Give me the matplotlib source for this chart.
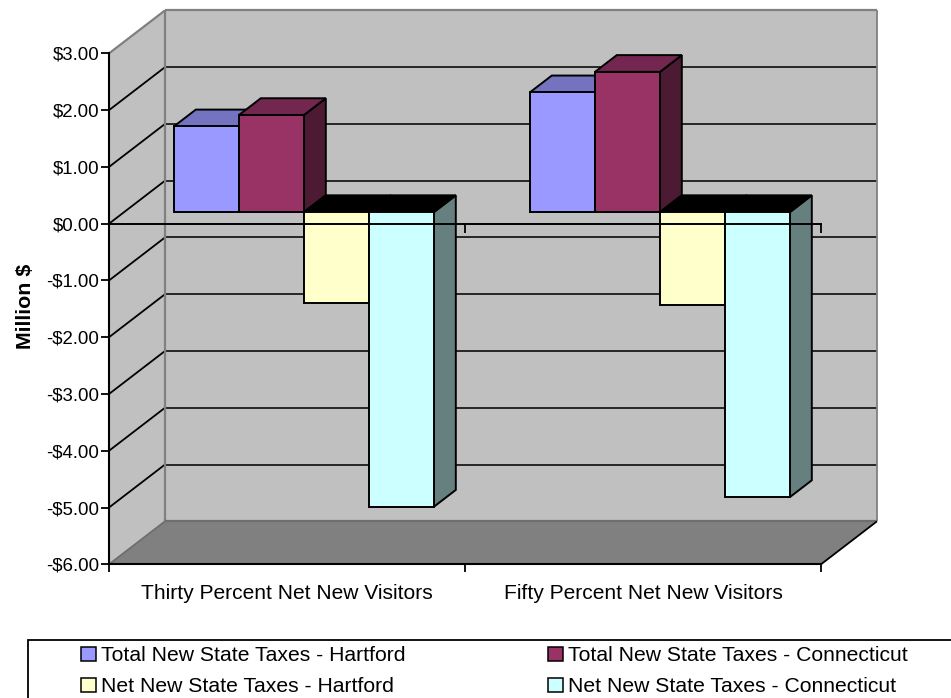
import matplotlib
matplotlib.use("Agg")
import matplotlib.pyplot as plt
from matplotlib.patches import Polygon, Patch, Rectangle
from matplotlib.ticker import FuncFormatter

plt.rcParams["font.family"] = ["Liberation Sans", "DejaVu Sans"]

categories = ["Thirty Percent Net New Visitors", "Fifty Percent Net New Visitors"]
series_names = [
    "Total New State Taxes - Hartford",
    "Total New State Taxes - Connecticut",
    "Net New State Taxes - Hartford",
    "Net New State Taxes - Connecticut",
]
total_hartford = [1.51, 2.11]
total_connecticut = [1.71, 2.47]
net_hartford = [-1.60, -1.64]
net_connecticut = [-5.19, -5.02]
series_values = [total_hartford, total_connecticut, net_hartford, net_connecticut]

front_colors = ["#9999FF", "#993366", "#FFFFCC", "#CCFFFF"]
top_colors = ["#7373BF", "#732650", "#000000", "#000000"]
side_colors = ["#4D4D80", "#4D1A33", "#808066", "#668080"]

W, H = 951, 698
fig = plt.figure(figsize=(W / 100, H / 100), dpi=100, facecolor="white")
ax = fig.add_axes([109 / W, 1 - 564.3 / H, 712 / W, (564.3 - 53.4) / H])
ax.set_xlim(0, 2)
ax.set_ylim(-6, 3)
ax.patch.set_visible(False)

# Oblique projection of the depth axis, in data units per unit of depth
DX = 56 / 356
DY = 43 / 56.77
Y_MIN, Y_MAX = -6, 3
X_MAX = len(categories)


def project(x, y, z):
    return (x + z * DX, y + z * DY)


def face(points, color, edge="none", lw=0.0, zorder=1):
    ax.add_patch(Polygon([project(*p) for p in points], closed=True, facecolor=color,
                         edgecolor=edge, linewidth=lw, zorder=zorder,
                         clip_on=False, joinstyle="miter"))


def line3d(p, q, color, lw, zorder=2):
    a, b = project(*p), project(*q)
    ax.plot([a[0], b[0]], [a[1], b[1]], color=color, lw=lw, zorder=zorder,
            clip_on=False, solid_capstyle="butt")


# Chart box: back wall, side wall, floor
WALL = "#C0C0C0"
EDGE = "#808080"
face([(0, Y_MIN, 1), (X_MAX, Y_MIN, 1), (X_MAX, Y_MAX, 1), (0, Y_MAX, 1)], WALL, zorder=1)
face([(0, Y_MIN, 0), (0, Y_MIN, 1), (0, Y_MAX, 1), (0, Y_MAX, 0)], WALL, zorder=1)
face([(0, Y_MIN, 0), (X_MAX, Y_MIN, 0), (X_MAX, Y_MIN, 1), (0, Y_MIN, 1)], EDGE, zorder=1)

for y in range(Y_MIN + 1, Y_MAX):
    line3d((0, y, 0), (0, y, 1), "#000000", 1.3)
    line3d((0, y, 1), (X_MAX, y, 1), "#1A1A1A", 1.3)

line3d((0, Y_MAX, 0), (0, Y_MAX, 1), EDGE, 1.6)
line3d((0, Y_MAX, 1), (X_MAX, Y_MAX, 1), EDGE, 1.6)
line3d((X_MAX, Y_MAX, 1), (X_MAX, Y_MIN, 1), EDGE, 1.3)
line3d((0, Y_MAX, 1), (0, Y_MIN, 1), EDGE, 1.6)
line3d((0, Y_MIN, 1), (X_MAX, Y_MIN, 1), "#6E6E6E", 1.6)
line3d((0, Y_MIN, 0), (0, Y_MIN, 1), "#6E6E6E", 1.3)
line3d((X_MAX, Y_MIN, 0), (X_MAX, Y_MIN, 1), "#000000", 1.3)

# Bars, painted left to right so that nearer faces overlap correctly
GROUP_OFFSET = 0.14
BAR_W = 65 / 356
Z0, Z1 = 0.27, 0.66
order = 3
for c in range(len(categories)):
    for s, values in enumerate(series_values):
        v = values[c]
        x0 = c + GROUP_OFFSET + s * BAR_W
        x1 = x0 + BAR_W
        edge = {"edge": "#000000", "lw": 1.4}
        face([(x1, 0, Z0), (x1, 0, Z1), (x1, v, Z1), (x1, v, Z0)], side_colors[s], zorder=order, **edge)
        top = max(v, 0)
        face([(x0, top, Z0), (x1, top, Z0), (x1, top, Z1), (x0, top, Z1)], top_colors[s], zorder=order, **edge)
        face([(x0, 0, Z0), (x1, 0, Z0), (x1, v, Z0), (x0, v, Z0)], front_colors[s], zorder=order + 0.1, **edge)
        order += 1

# Zero line with its category ticks, on top of everything
ZERO_Z = order + 1
ax.axhline(0, color="#000000", lw=1.4, zorder=ZERO_Z, clip_on=False)
ax.vlines(range(X_MAX + 1), -0.17, 0, color="#000000", lw=1.3, zorder=ZERO_Z, clip_on=False)

# Axes
for name in ("top", "right"):
    ax.spines[name].set_visible(False)
for name in ("left", "bottom"):
    ax.spines[name].set_linewidth(1.5)
    ax.spines[name].set_zorder(ZERO_Z)

ax.set_yticks(range(Y_MIN, Y_MAX + 1))
ax.yaxis.set_major_formatter(FuncFormatter(lambda v, _: f"-${abs(v):.2f}" if v < 0 else f"${v:.2f}"))
ax.set_xticks(range(X_MAX + 1))
ax.set_xticklabels([])
ax.set_xticks([i + 0.5 for i in range(X_MAX)], categories, minor=True)
ax.tick_params(axis="y", length=6, width=1.3, pad=1, labelsize=13.4, labelcolor="#000000")
ax.tick_params(axis="x", which="major", length=6, width=1.3)
ax.tick_params(axis="x", which="minor", length=0, pad=14, labelsize=15.1)
ax.set_ylabel("Million $", fontsize=15.4, fontweight="bold", labelpad=0)
ax.yaxis.set_label_coords(35 / W, 1 - 306 / H, transform=fig.transFigure)

# Legend box runs off the right-hand side of the figure
fig.add_artist(Rectangle((28 / W, 1 - 699 / H), 1000 / W, 59.5 / H, transform=fig.transFigure,
                         facecolor="white", edgecolor="#000000", linewidth=1.3, clip_on=True))
handles = [Patch(facecolor=col, edgecolor="#000000", linewidth=1.1) for col in front_colors]
order_idx = [0, 2, 1, 3]
fs = 15.2
px = fs * 100 / 72
legend = fig.legend([handles[i] for i in order_idx], [series_names[i] for i in order_idx],
                    ncol=2, loc="upper left", bbox_to_anchor=(81 / W, 1 - 646 / H),
                    frameon=False, fontsize=fs, borderpad=0, borderaxespad=0,
                    handlelength=15 / px, handleheight=13.5 / px, handletextpad=5 / px,
                    labelspacing=0.57, columnspacing=142 / px)

fig.savefig("out.png", dpi=100, facecolor="white")
